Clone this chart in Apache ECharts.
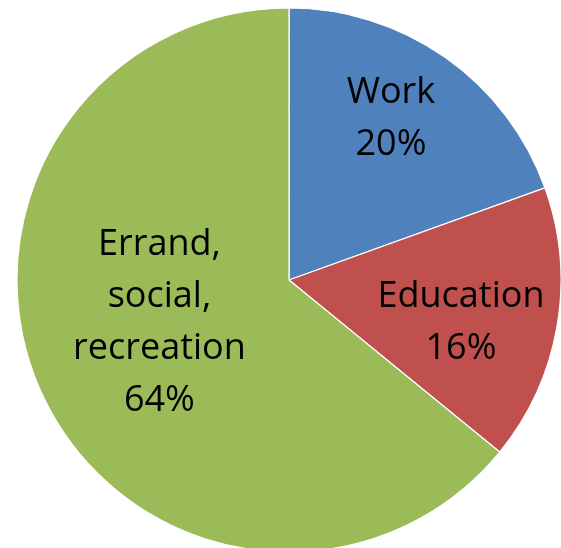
<!DOCTYPE html>
<html>
<head>
<meta charset="utf-8">
<script src="https://cdn.jsdelivr.net/npm/echarts@6/dist/echarts.min.js"></script>
<style>
html,body{margin:0;padding:0;background:#fff;}
#chart{width:561px;height:548px;}
</style>
</head>
<body>
<div id="chart"></div>
<script>
var categories = ['Work', 'Education', 'Errand,\nsocial,\nrecreation'];
var shares = [19.5, 16.4, 64.1];
var colors = ['#4F81BD', '#C0504D', '#9BBB59'];

var labelShift = [[22, -48], [35, 19], [-4, -17]];

var chart = echarts.init(document.getElementById('chart'));
chart.setOption({
  animation: false,
  series: [{
    type: 'pie',
    center: [289, 280],
    radius: 272,
    startAngle: 90,
    clockwise: true,
    avoidLabelOverlap: false,
    percentPrecision: 0,
    itemStyle: { borderColor: '#ffffff', borderWidth: 1.2 },
    label: {
      show: true,
      position: 'inside',
      formatter: '{b}\n{d}%',
      color: '#000000',
      fontFamily: 'Open Sans',
      fontSize: 36,
      lineHeight: 52,
      align: 'center'
    },
    labelLine: { show: false },
    emphasis: { disabled: true },
    data: categories.map(function (c, i) {
      return {
        name: c,
        value: shares[i],
        itemStyle: { color: colors[i] },
        label: { offset: labelShift[i] }
      };
    })
  }]
});
</script>
</body>
</html>
